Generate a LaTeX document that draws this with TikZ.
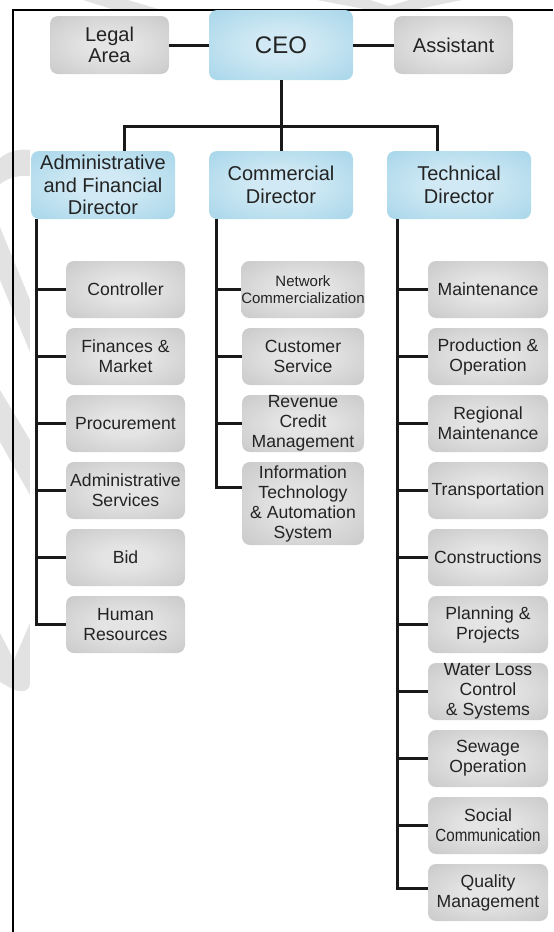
\documentclass[tikz,border=0pt]{standalone}
\usepackage{fontspec}
\setmainfont{Liberation Sans}
\usepackage{graphicx}

\definecolor{greyin}{RGB}{228,228,228}
\definecolor{greyout}{RGB}{174,174,174}
\definecolor{bluein}{RGB}{208,233,244}
\definecolor{blueout}{RGB}{126,195,224}
\definecolor{txt}{RGB}{35,35,35}
\definecolor{wmark}{RGB}{226,226,226}

\pgfdeclareradialshading{greyshade}{\pgfpoint{0bp}{0bp}}{color(0bp)=(greyin); color(10bp)=(greyin); color(62bp)=(greyout); color(80bp)=(greyout)}
\pgfdeclareradialshading{blueshade}{\pgfpoint{0bp}{0bp}}{color(0bp)=(bluein); color(10bp)=(bluein); color(62bp)=(blueout); color(80bp)=(blueout)}

\tikzset{
  box/.style={rounded corners=4pt, inner sep=0pt, align=center, text=txt,
    font=\fontsize{8.8}{10}\selectfont},
  greybox/.style={box, shade, shading=greyshade},
  bluebox/.style={box, shade, shading=blueshade},
  topbox/.style={greybox, minimum width=59.5pt, minimum height=29pt,
    font=\fontsize{10}{10.8}\selectfont},
  ceobox/.style={bluebox, minimum width=72pt, minimum height=35pt,
    font=\fontsize{12}{14}\selectfont},
  dirbox/.style={bluebox, minimum width=72pt, minimum height=34pt,
    font=\fontsize{10}{11.2}\selectfont},
  admunit/.style={greybox, minimum width=59.5pt, minimum height=28.5pt},
  comunit/.style={greybox, minimum width=61pt, minimum height=28.5pt},
  tecunit/.style={greybox, minimum width=60pt, minimum height=28.5pt},
  link/.style={draw=black!90, line width=1.5pt}
}

\begin{document}
\begin{tikzpicture}[x=0.5pt,y=-0.5pt]
  \useasboundingbox (0,0) rectangle (553,932);

  % faint marks in the margins
  \begin{scope}
    \clip (0,0) rectangle (30,932) (0,0) rectangle (553,9.5);
    \fill[wmark] (0,158) .. controls (10,150) and (20,149) .. (30,150)
      -- (30,176) .. controls (20,175) and (10,177) .. (0,184) -- cycle;
    \fill[wmark] (0,227) -- (30,300) -- (30,352) -- (0,280) -- cycle;
    \fill[wmark] (0,390) -- (30,440) -- (30,495) -- (0,442) -- cycle;
    \fill[wmark] (0,633) -- (14,660) -- (30,623) -- (30,684)
      .. controls (30,690) and (24,693) .. (14,690) -- (0,682) -- cycle;
    \fill[wmark] (83,0) -- (128,0) -- (160,9.5) -- (113,9.5) -- cycle;
    \fill[wmark] (317,0) -- (370,0) -- (389,6) -- (409,0) -- (462,0)
      -- (416,9.5) -- (367,9.5) -- cycle;
  \end{scope}

  \draw[line width=1pt] (13,932) -- (13,9.5) -- (553,9.5);

  \node[topbox] (legal) at (109.5,45) {Legal\\Area};
  \node[ceobox] (ceo) at (281,45) {CEO};
  \node[topbox] (assist) at (453.5,45) {Assistant};

  \node[dirbox] (adm) at (103,185) {Administrative\\and Financial\\Director};
  \node[dirbox] (com) at (281,185) {Commercial\\Director};
  \node[dirbox] (tec) at (459,185) {Technical\\Director};

  \node[admunit] (ctrl)  at (125.5,289.5) {Controller};
  \node[admunit] (fin)   at (125.5,356.5) {Finances \&\\Market};
  \node[admunit] (proc)  at (125.5,423.5) {Procurement};
  \node[admunit] (admsv) at (125.5,490.5) {Administrative\\Services};
  \node[admunit] (bid)   at (125.5,557.5) {Bid};
  \node[admunit] (hr)    at (125.5,624.5) {Human\\Resources};

  \node[comunit, font=\fontsize{7.5}{8.3}\selectfont] (net) at (303,289.5) {Network\\Commercialization};
  \node[comunit] (cust) at (303,356.5) {Customer\\Service};
  \node[comunit] (rev)  at (303,423.5) {Revenue\\Credit\\Management};
  \node[comunit, minimum height=41.5pt] (it) at (303,503.5) {Information\\Technology\\\& Automation\\System};

  \node[tecunit] (maint)   at (488,289.5) {Maintenance};
  \node[tecunit] (prod)    at (488,356.5) {Production \&\\Operation};
  \node[tecunit] (regm)    at (488,423.5) {Regional\\Maintenance};
  \node[tecunit] (trans)   at (488,490.5) {Transportation};
  \node[tecunit] (constr)  at (488,557.5) {Constructions};
  \node[tecunit] (plan)    at (488,624.5) {Planning \&\\Projects};
  \node[tecunit] (water)   at (488,691.5) {Water Loss\\Control\\\& Systems};
  \node[tecunit] (sewage)  at (488,758.5) {Sewage\\Operation};
  \node[tecunit] (social)  at (488,825.5) {Social\\\scalebox{0.86}[1]{Communication}};
  \node[tecunit] (quality) at (488,892.5) {Quality\\Management};

  \coordinate (busL) at (124,126);
  \coordinate (busR) at (437,126);
  \coordinate (admsp) at ([xshift=3pt]adm.south west);
  \coordinate (comsp) at ([xshift=4pt]com.south west);
  \coordinate (tecsp) at ([xshift=5.5pt]tec.south west);

  \begin{scope}[link]
    \draw (legal) -- (ceo);
    \draw (ceo) -- (assist);
    \draw (ceo) -- (com);
    \draw (adm.north -| busL) -- (busL) -- (busR) -- (tec.north -| busR);

    \draw (admsp) |- (hr);
    \foreach \u in {ctrl,fin,proc,admsv,bid}
      \draw (\u) -- (\u -| admsp);

    \draw (comsp) |- ([yshift=-13pt]it.north west);
    \foreach \u in {net,cust,rev}
      \draw (\u) -- (\u -| comsp);

    \draw (tecsp) |- ([yshift=2pt]quality.west);
    \foreach \u in {maint,prod,regm,trans,constr,plan,water,sewage,social}
      \draw (\u) -- (\u -| tecsp);
  \end{scope}
\end{tikzpicture}
\end{document}
